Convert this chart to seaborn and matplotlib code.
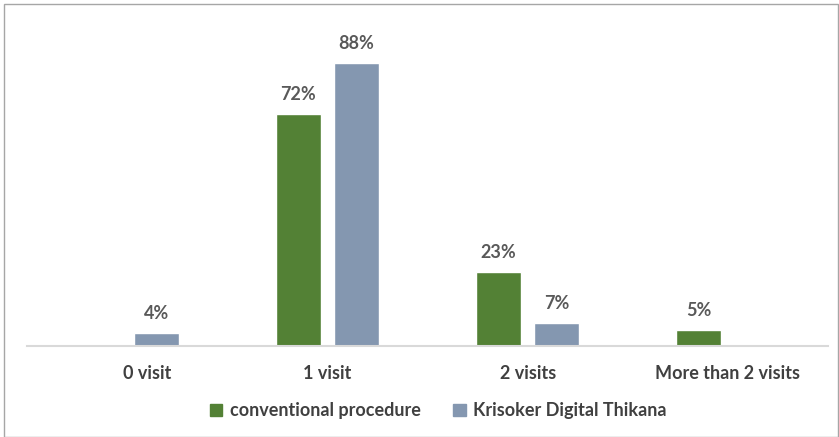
import pandas as pd
import matplotlib.pyplot as plt
import matplotlib.transforms as mtransforms
import seaborn as sns
from matplotlib.patches import Rectangle

categories = ['0 visit', '1 visit', '2 visits', 'More than 2 visits']
series = ['conventional procedure', 'Krisoker Digital Thikana']
conventional = [0, 72, 23, 5]
krisoker = [4, 88, 7, 0]
colors = ['#538135', '#8497B0']

df = pd.DataFrame({
    'category': categories * 2,
    'series': [series[0]] * 4 + [series[1]] * 4,
    'value': conventional + krisoker,
})

sns.set_theme(style='white')
plt.rcParams['font.family'] = ['Lato', 'DejaVu Sans']

fig = plt.figure(figsize=(8.39, 4.37), dpi=100)
ax = fig.add_axes([27 / 839, 91 / 437, 801 / 839, 321.6 / 437])

sns.barplot(data=df, x='category', y='value', hue='series', order=categories,
            hue_order=series, palette=colors, width=0.58, gap=0.224,
            saturation=1, ax=ax, legend=False)

# value labels, skip zero bars
for container in ax.containers:
    labels = [f'{v:.0f}%' if v > 0 else '' for v in container.datavalues]
    ax.bar_label(container, labels=labels, padding=8, fontsize=13,
                 fontweight='bold', color='#595959')

ax.set_ylim(0, 100)
ax.set_xlim(-0.5, 3.5)
ax.set_xlabel('')
ax.set_ylabel('')
ax.set_yticks([])
ax.tick_params(axis='x', length=0, pad=14, labelsize=13, labelcolor='#404040')
for lbl in ax.get_xticklabels():
    lbl.set_fontweight('bold')
# first label sits a bit right of its group in the original
first = ax.get_xticklabels()[0]
first.set_transform(first.get_transform() +
                    mtransforms.ScaledTranslation(0.2, 0, fig.dpi_scale_trans))
for side in ['top', 'right', 'left']:
    ax.spines[side].set_visible(False)
ax.spines['bottom'].set_color('#d9d9d9')
ax.spines['bottom'].set_linewidth(1.5)

handles = [Rectangle((0, 0), 1, 1, color=c) for c in colors]
fig.legend(handles, series, loc='center', bbox_to_anchor=(0.522, 0.06), ncol=2,
           frameon=False, handlelength=0.7, handleheight=0.7, handletextpad=0.4,
           columnspacing=1.8, prop={'size': 13, 'weight': 'bold'},
           labelcolor='#404040')

fig.patches.append(Rectangle((4 / 839, 0), 834 / 839, 433 / 437, transform=fig.transFigure,
                             fill=False, edgecolor='#a6a6a6', linewidth=1))

fig.savefig('out.png', dpi=100)
